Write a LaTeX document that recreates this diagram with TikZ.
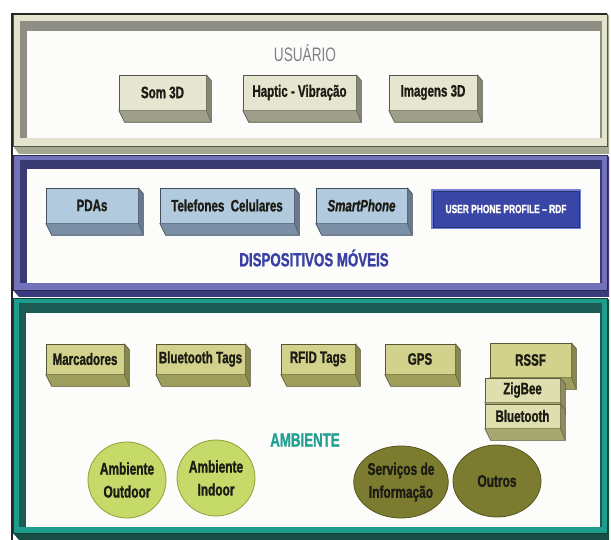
\documentclass[tikz,border=0pt]{standalone}
\usepackage{fontspec}
\setmainfont{Liberation Sans}[FakeStretch=0.7, BoldFeatures={FakeBold=1.2}, BoldItalicFeatures={FakeBold=1.2}]
\usetikzlibrary{calc,shapes.geometric}

% panel colours
\definecolor{usrOuter}{HTML}{E4E4CE}
\definecolor{usrDark}{HTML}{8E8E84}
\definecolor{usrDepth}{HTML}{A4A892}
\definecolor{dspOuter}{HTML}{7272BA}
\definecolor{dspDark}{HTML}{3B3B74}
\definecolor{dspDepth}{HTML}{3A3A7C}
\definecolor{dspTitle}{HTML}{3A40A4}
\definecolor{ambOuter}{HTML}{1E9D8D}
\definecolor{ambDark}{HTML}{1B5B53}
\definecolor{ambDepth}{HTML}{1A4C46}
\definecolor{ambTitle}{HTML}{22A092}
\definecolor{paper}{HTML}{FCFCFA}
% block colours
\definecolor{usrFace}{HTML}{E6E6D0}
\definecolor{usrSide}{HTML}{9E9E8A}
\definecolor{dspFace}{HTML}{B2CADE}
\definecolor{dspSide}{HTML}{7A8EA6}
\definecolor{ambFace}{HTML}{D2D28C}
\definecolor{ambSide}{HTML}{9E9E5C}
\definecolor{subFace}{HTML}{DEDEAE}
\definecolor{subSide}{HTML}{A6A670}
\definecolor{profFill}{HTML}{3A46A6}
\definecolor{profEdge}{HTML}{7282D4}
\definecolor{lightGreen}{HTML}{C6DA6A}
\definecolor{lightGreenEdge}{HTML}{8EA238}
\definecolor{olive}{HTML}{7C7C30}
\definecolor{oliveEdge}{HTML}{56561C}
\definecolor{inkText}{HTML}{1C1C14}

\tikzset{
  block/.style={draw=#1!55!black, line width=0.6pt, rectangle, inner sep=0pt,
    font=\fontsize{16.5}{18}\selectfont\bfseries, text=inkText},
  usrblock/.style={block=usrSide, fill=usrFace},
  dspblock/.style={block=dspSide, fill=dspFace},
  ambblock/.style={block=ambSide, fill=ambFace},
  subblock/.style={block=subSide, fill=subFace},
  disc/.style={ellipse, inner sep=0pt, line width=0.8pt,
    font=\fontsize{17}{23}\selectfont\bfseries, text=inkText, align=center},
  title/.style={font=\fontsize{19}{21}\selectfont\bfseries},
}

% depth faces of a block: right face and bottom face
\newcommand\extrude[2]{%
  \fill[#2!85!black] (#1.north east) -- ++(5,6) -- ($(#1.south east)+(5,12)$) -- (#1.south east) -- cycle;
  \fill[#2] (#1.south west) -- (#1.south east) -- ($(#1.south east)+(5,12)$) -- ($(#1.south west)+(6,12)$) -- cycle;
  \draw[#2!55!black, line width=0.6pt] (#1.north east) -- ++(5,6) -- ($(#1.south east)+(5,12)$) -- ($(#1.south west)+(6,12)$) -- (#1.south west);
  \draw[#2!55!black, line width=0.5pt] (#1.south east) -- ($(#1.south east)+(5,12)$);
}

\begin{document}
\begin{tikzpicture}[x=1pt, y=-1pt]
\useasboundingbox (0,0) rectangle (611,540);
\fill[white] (0,0) rectangle (611,540);

% ---------- USUARIO panel ----------
\fill[usrDepth] (13,146) -- (19,154) -- (609,154) -- (609,16) -- (607,14) -- cycle;
\filldraw[fill=usrOuter, draw=usrDark!60!black, line width=0.6pt] (13,14) rectangle (607,146);
\fill[usrDark] (20,21) rectangle (602,138);
\fill[paper] (27,31) rectangle (600,138);

% ---------- DISPOSITIVOS panel ----------
\fill[dspDepth] (13,290) -- (19,297) -- (609,297) -- (609,157) -- (607,155) -- cycle;
\filldraw[fill=dspOuter, draw=dspDark!70!black, line width=0.6pt] (13,155) rectangle (607,290);
\fill[dspDark] (20,160) rectangle (602,283);
\fill[paper] (27,169) rectangle (600,283);

% ---------- AMBIENTE panel ----------
\fill[ambDepth] (13,533) -- (19,540) -- (609,540) -- (609,300) -- (607,298) -- cycle;
\filldraw[fill=ambOuter, draw=ambDark!70!black, line width=0.6pt] (13,298) rectangle (607,533);
\fill[ambDark] (19,303) rectangle (602,527);
\fill[paper] (26,313) rectangle (600,527);

% outer rule on the left and top
\draw[black!85, line width=1.4pt] (12,540) -- (12,14) -- (607,14);

% ---------- USUARIO content ----------
\node[font=\fontsize{19.5}{21}\selectfont, text=black!50] (usr) at (305,53) {USUÁRIO};
\node[usrblock, minimum width=87, minimum height=35] (som) at (162.5,92.5) {Som 3D};
\extrude{som}{usrSide}
\node[usrblock, minimum width=113, minimum height=35] (hap) at (299.5,92.5) {Haptic - Vibração};
\extrude{hap}{usrSide}
\node[usrblock, minimum width=88, minimum height=35] (img) at (433,92.5) {Imagens 3D};
\extrude{img}{usrSide}

% ---------- DISPOSITIVOS content ----------
\node[dspblock, minimum width=92, minimum height=35] (pda) at (92,205.5) {PDAs};
\extrude{pda}{dspSide}
\node[dspblock, minimum width=134, minimum height=35] (tel) at (227,205.5) {Telefones\ \ Celulares};
\extrude{tel}{dspSide}
\node[dspblock, minimum width=91, minimum height=35] (smp) at (361.5,205.5) {\itshape SmartPhone};
\extrude{smp}{dspSide}
\node[fill=profFill, draw=profEdge, line width=2pt, minimum width=148, minimum height=38,
  inner sep=0pt, text=white, font=\fontsize{12}{14}\selectfont\bfseries] (prof) at (506,209)
  {USER PHONE PROFILE – RDF};
\draw[profFill!70!black, line width=0.5pt] ($(prof.north west)+(2,2)$) rectangle ($(prof.south east)+(-2,-2)$);
\node[title, text=dspTitle] (dsp) at (314,258) {DISPOSITIVOS MÓVEIS};

% ---------- AMBIENTE content ----------
\node[ambblock, minimum width=78, minimum height=30] (mar) at (85,359) {Marcadores};
\extrude{mar}{ambSide}
\node[ambblock, minimum width=89, minimum height=30] (btt) at (200.5,359) {Bluetooth Tags};
\extrude{btt}{ambSide}
\node[ambblock, minimum width=74, minimum height=30] (rfid) at (318,359) {RFID Tags};
\extrude{rfid}{ambSide}
\node[ambblock, minimum width=70, minimum height=30] (gps) at (420,359) {GPS};
\extrude{gps}{ambSide}
\node[ambblock, minimum width=81, minimum height=34] (rssf) at (530.5,360) {RSSF};
\extrude{rssf}{ambSide}
\node[subblock, minimum width=75, minimum height=24] (zig) at (522.5,390) {ZigBee};
\extrude{zig}{subSide}
\node[subblock, minimum width=75, minimum height=24] (blt) at (522.5,416) {Bluetooth};
\extrude{blt}{subSide}

\node[title, text=ambTitle] (amb) at (305,440) {AMBIENTE};

\node[disc, fill=lightGreen, draw=lightGreenEdge, minimum width=78, minimum height=76] (out) at (127,480) {Ambiente\\Outdoor};
\node[disc, fill=lightGreen, draw=lightGreenEdge, minimum width=78, minimum height=76] (ind) at (216,478) {Ambiente\\Indoor};
\node[disc, fill=olive, draw=oliveEdge, minimum width=84, minimum height=72] (srv) at (401,482) {Serviços de\\Informação};
\node[disc, fill=olive, draw=oliveEdge, minimum width=88, minimum height=72] (oth) at (497,481) {Outros};
\end{tikzpicture}
\end{document}
